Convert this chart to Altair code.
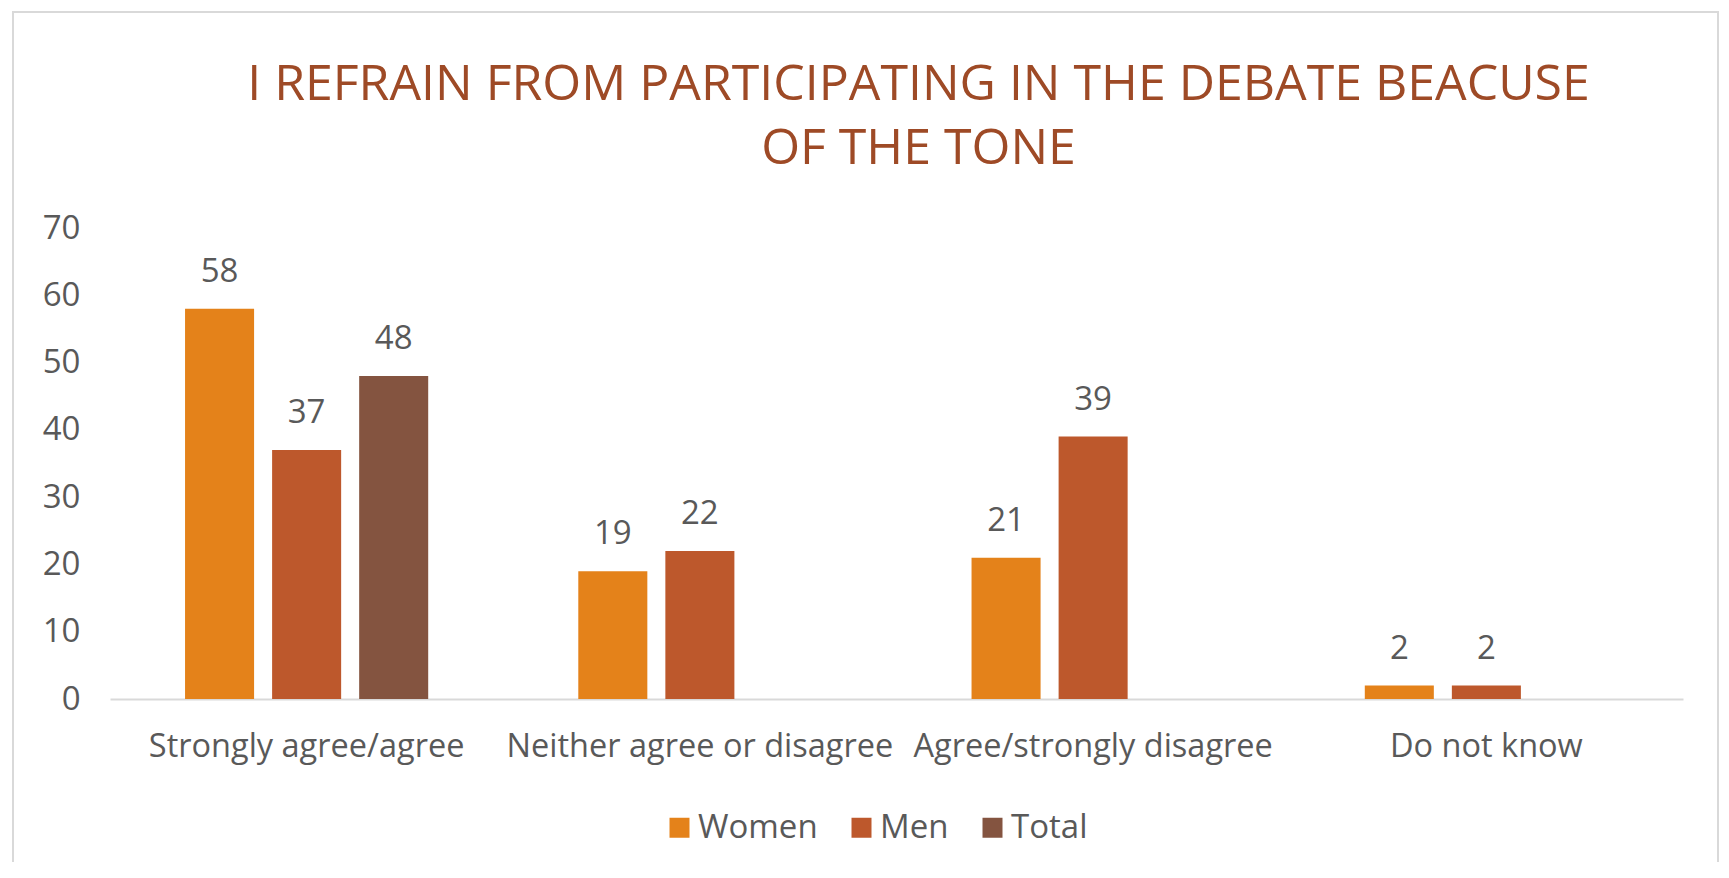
import altair as alt
import pandas as pd

categories = ["Strongly agree/agree", "Neither agree or disagree", "Agree/strongly disagree", "Do not know"]
series = ["Women", "Men", "Total"]
women = [58, 19, 21, 2]
men = [37, 22, 39, 2]
total = [48, None, None, None]
colors = ["#E4821A", "#BD582C", "#845440"]

rows = []
for i, c in enumerate(categories):
    for s, vals in zip(series, [women, men, total]):
        if vals[i] is not None:
            rows.append({"category": c, "series": s, "value": vals[i]})
df = pd.DataFrame(rows)

FONT = "Open Sans"
TXT = "#595959"
FS = 33

base = alt.Chart(df).encode(
    x=alt.X("category:N", sort=categories, title=None,
            scale=alt.Scale(paddingInner=0, paddingOuter=0),
            axis=alt.Axis(labelAngle=0, ticks=False, domainColor="#D9D9D9", domainWidth=2,
                          labelFontSize=32.5, labelColor=TXT, labelFont=FONT, labelPadding=31,
                          labelLimit=400)),
    xOffset=alt.XOffset("series:N", sort=series,
                        scale=alt.Scale(domain=series, paddingInner=0.207, paddingOuter=0.862)),
    y=alt.Y("value:Q", title=None,
            scale=alt.Scale(domain=[0, 70]),
            axis=alt.Axis(values=list(range(0, 71, 10)), grid=False, domain=False, ticks=False,
                          labelFontSize=FS, labelColor=TXT, labelFont=FONT, labelPadding=30)),
)

bars = base.mark_bar().encode(
    color=alt.Color("series:N", sort=series,
                    scale=alt.Scale(domain=series, range=colors),
                    legend=alt.Legend(title=None, orient="none", direction="horizontal",
                                      legendX=553, legendY=583,
                                      symbolType="square", symbolSize=400, symbolStrokeWidth=0,
                                      labelFontSize=FS, labelColor=TXT, labelFont=FONT,
                                      labelOffset=2, columnPadding=27))
)

labels = base.mark_text(dy=-27, baseline="alphabetic", fontSize=FS, font=FONT, color=TXT).encode(
    text=alt.Text("value:Q")
)

frame = alt.Chart(pd.DataFrame({"a": [0]})).mark_rect(
    fill=None, stroke="#D9D9D9", strokeWidth=2
).encode(x=alt.value(-97), x2=alt.value(1608), y=alt.value(-216), y2=alt.value(700))

chart = alt.layer(frame, bars, labels).properties(
    width=1573, height=471,
    padding={"left": 102, "top": 220, "right": 36, "bottom": 163},
    autosize=alt.AutoSizeParams(type="none"),
    title=alt.Title(["I REFRAIN FROM PARTICIPATING IN THE DEBATE BEACUSE", "OF THE TONE"],
                    anchor="middle", font=FONT, fontSize=50, fontWeight="normal",
                    color="#9E4A26", lineHeight=64, offset=-163, dx=22),
).configure(background="white").configure_view(stroke=None)

chart.save("out.html", embed_options={"renderer": "svg", "actions": False})
